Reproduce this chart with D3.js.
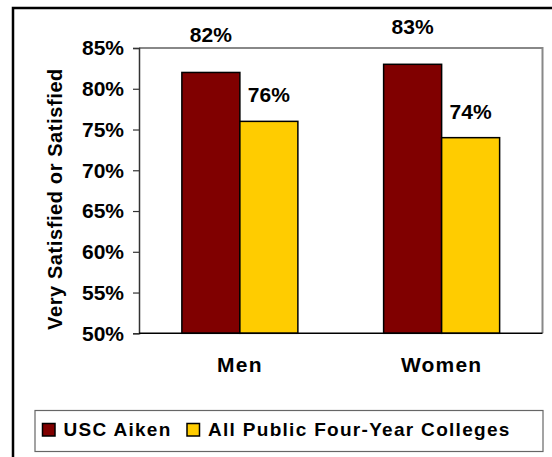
<!DOCTYPE html>
<html>
<head>
<meta charset="utf-8">
<script src="https://cdn.jsdelivr.net/npm/d3@7"></script>
<style>
  html, body { margin: 0; padding: 0; background: #fff; overflow: hidden; }
  svg { display: block; }
  text { font-family: "Liberation Sans", Arial, sans-serif; font-weight: bold; fill: #000; }
</style>
</head>
<body>
<svg id="chart" width="552" height="457"></svg>
<script>
// Satisfaction by gender: USC Aiken vs. all public four-year colleges
const categories = ["Men", "Women"];
const seriesNames = ["USC Aiken", "All Public Four-Year Colleges"];
const uscAiken = [82, 83];
const allPublic = [76, 74];
const yTicks = [50, 55, 60, 65, 70, 75, 80, 85];
const yTitle = "Very Satisfied or Satisfied";

const colors = ["#800000", "#FFCC00"];
const labelOffset = [30, 19];
const values = [uscAiken, allPublic];

const svg = d3.select("#chart");

// outer frame (left and top edges fall inside the view)
svg.append("path")
  .attr("d", "M13,457V8H552")
  .attr("fill", "none").attr("stroke", "#000").attr("stroke-width", 2.5);

const plot = { left: 139, right: 542.5, top: 48, bottom: 333.3 };

const y = d3.scaleLinear().domain([50, 85]).range([plot.bottom, plot.top]);
const x0 = d3.scaleBand().domain(categories).range([plot.left, plot.right]).padding(0);
const groupW = x0.bandwidth() * 0.575;
const x1 = d3.scaleBand().domain(seriesNames).range([0, groupW]).padding(0);

// plot frame (top and right in grey)
svg.append("path")
  .attr("d", `M${plot.left},${plot.top}H${plot.right}V${plot.bottom}`)
  .attr("fill", "none").attr("stroke", "#888").attr("stroke-width", 2);

// bars
categories.forEach((c, ci) => {
  const gx = x0(c) + x0.bandwidth() / 2 - groupW / 2;
  seriesNames.forEach((s, si) => {
    const v = values[si][ci];
    svg.append("rect")
      .attr("x", gx + x1(s))
      .attr("y", y(v))
      .attr("width", x1.bandwidth())
      .attr("height", y(50) - y(v))
      .attr("fill", colors[si])
      .attr("stroke", "#000").attr("stroke-width", 1.5);
    svg.append("text")
      .attr("x", gx + x1(s) + x1.bandwidth() / 2)
      .attr("y", y(v) - labelOffset[si])
      .attr("text-anchor", "middle")
      .attr("font-size", 21)
      .text(v + "%");
  });
});

// y axis
const yAxis = d3.axisLeft(y).tickValues(yTicks).tickFormat(d => d + "%").tickSize(6).tickPadding(9);
const ga = svg.append("g").attr("transform", `translate(${plot.left},0)`).call(yAxis);
ga.select(".domain").attr("stroke", "#333").attr("stroke-width", 1.5);
ga.selectAll(".tick line").attr("stroke", "#333").attr("stroke-width", 1.2);
ga.selectAll(".tick text").attr("font-size", 21).attr("font-family", "Liberation Sans, Arial, sans-serif")
  .attr("font-weight", "bold").attr("fill", "#000");

// x baseline
svg.append("line")
  .attr("x1", plot.left).attr("x2", plot.right)
  .attr("y1", plot.bottom).attr("y2", plot.bottom)
  .attr("stroke", "#000").attr("stroke-width", 1.5);

// category labels
svg.selectAll(".cat").data(categories).enter().append("text")
  .attr("class", "cat")
  .attr("x", d => x0(d) + x0.bandwidth() / 2)
  .attr("y", 372)
  .attr("text-anchor", "middle")
  .attr("font-size", 21)
  .attr("letter-spacing", 1.2)
  .text(d => d);

// y title
svg.append("text")
  .attr("transform", "translate(62,199) rotate(-90)")
  .attr("text-anchor", "middle")
  .attr("font-size", 20)
  .attr("letter-spacing", 0.6)
  .text(yTitle);

// legend
const lg = svg.append("g");
lg.append("rect")
  .attr("x", 35).attr("y", 410.5).attr("width", 508).attr("height", 41)
  .attr("fill", "#fff").attr("stroke", "#666").attr("stroke-width", 1.2);
const legendX = [42.5, 187];
seriesNames.forEach((s, i) => {
  lg.append("rect")
    .attr("x", legendX[i]).attr("y", 423.5).attr("width", 12.5).attr("height", 12.5)
    .attr("fill", colors[i]).attr("stroke", "#000").attr("stroke-width", 1.5);
  lg.append("text")
    .attr("x", legendX[i] + 21).attr("y", 436)
    .attr("font-size", 19)
    .attr("letter-spacing", 1.3)
    .text(s);
});
</script>
</body>
</html>
